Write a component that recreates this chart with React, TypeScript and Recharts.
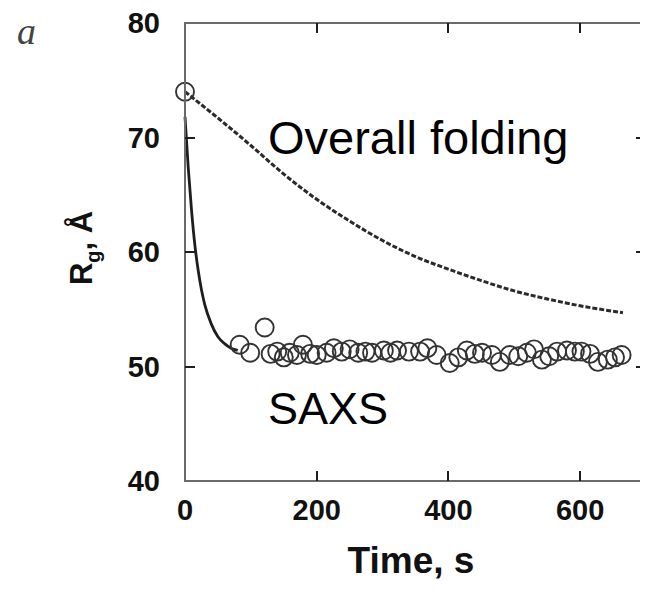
import React from "react";
import { ComposedChart, Line, Scatter, XAxis, YAxis, Customized } from "recharts";

// SAXS measurements: time (s) and Rg (Å)
const saxsTime = [0, 83, 99, 121, 130, 140, 150, 159, 170, 179, 190, 200, 215, 226, 238, 250, 263, 274, 284, 302, 312, 322, 340, 357, 368, 382, 402, 415, 428, 440, 451, 466, 478, 493, 506, 519, 530, 542, 553, 565, 580, 592, 602, 615, 627, 642, 653, 663];
const saxsRg = [74.0, 51.9, 51.2, 53.4, 51.1, 51.3, 50.8, 51.2, 51.0, 51.9, 51.1, 51.0, 51.2, 51.6, 51.3, 51.5, 51.2, 51.3, 51.2, 51.4, 51.2, 51.4, 51.3, 51.3, 51.6, 51.0, 50.3, 50.8, 51.4, 51.1, 51.2, 51.0, 50.4, 51.0, 50.9, 51.2, 51.5, 50.6, 50.9, 51.3, 51.4, 51.3, 51.3, 51.1, 50.4, 50.6, 50.8, 51.0];

// Fit through SAXS points (solid line)
const fitTime = [0, 5, 10, 15, 20, 25, 30, 40, 50, 60, 70, 80];
const fitRg = [71.8, 67.3, 63.6, 60.6, 58.4, 56.7, 55.4, 53.7, 52.6, 52.0, 51.6, 51.4];

// Overall folding curve (dashed line)
const foldTime = [0, 50, 100, 150, 200, 250, 300, 350, 400, 450, 500, 550, 600, 665];
const foldRg = [74.0, 71.7, 69.3, 66.8, 64.6, 62.7, 61.0, 59.6, 58.5, 57.5, 56.6, 55.9, 55.3, 54.7];

const xDomain = [0, 700];
const yDomain = [40, 80];
const xTicks = [0, 200, 400, 600];
const yTicks = [40, 50, 60, 70, 80];
const innerXTicks = [200, 400, 600];
const innerYTicks = [50, 60, 70];

const saxsData = saxsTime.map((t, i) => ({ t, rg: saxsRg[i] }));
const fitData = fitTime.map((t, i) => ({ t, rg: fitRg[i] }));
const foldData = foldTime.map((t, i) => ({ t, rg: foldRg[i] }));

const FONT = "'Liberation Sans', Arial, Helvetica, sans-serif";
const AXIS = "#6a6a6a";
const INK = "#1e1e1e";

const CHART_W = 640;
const CHART_H = 578;
const MARGIN = { top: 15, right: 2, bottom: 0, left: 0 };
const Y_AXIS_W = 177;
const X_AXIS_H = 105;
// plot box (derived from the chart layout)
const PL = MARGIN.left + Y_AXIS_W;
const PR = CHART_W - MARGIN.right;
const PT = MARGIN.top;
const PB = CHART_H - MARGIN.bottom - X_AXIS_H;
const sx = (t: number) => PL + ((t - xDomain[0]) / (xDomain[1] - xDomain[0])) * (PR - PL);
const sy = (v: number) => PB - ((v - yDomain[0]) / (yDomain[1] - yDomain[0])) * (PB - PT);
const TICK = 10;

const BottomTick = (props: any) => {
  const { x, y, payload } = props;
  return (
    <text x={x} y={y + 31} textAnchor="middle" fontFamily={FONT} fontWeight="bold" fontSize={29} fill="#111">
      {payload.value}
    </text>
  );
};

const LeftTick = (props: any) => {
  const { x, y, payload } = props;
  return (
    <text x={x - 17} y={y + 10} textAnchor="end" fontFamily={FONT} fontWeight="bold" fontSize={29} fill="#111">
      {payload.value}
    </text>
  );
};

const OpenCircle = (props: any) => {
  const { cx, cy } = props;
  return <circle cx={cx} cy={cy} r={9} fill="none" stroke="#333" strokeWidth={1.9} />;
};

const Texts = () => (
  <g>
    <text x={9} y={36} fontFamily="'Liberation Serif', 'Times New Roman', serif" fontStyle="italic" fontSize={38} fill="#444">
      a
    </text>
    <text x={260} y={146} fontFamily={FONT} fontSize={47} fill="#000">
      Overall folding
    </text>
    <text x={260} y={416} fontFamily={FONT} fontSize={45} fill="#000">
      SAXS
    </text>
    <text transform="translate(84 240) rotate(-90)" textAnchor="middle" fontFamily={FONT} fontWeight="bold" fontSize={31} fill="#111">
      R<tspan fontSize={20} dy={8}>g</tspan>
      <tspan dy={-8}>, Å</tspan>
    </text>
    <text x={403} y={565} textAnchor="middle" fontFamily={FONT} fontWeight="bold" fontSize={37} fill="#111">
      Time, s
    </text>
  </g>
);

const abs = (left: number, top: number, width: number, height: number, extra: any = {}) => ({
  position: "absolute" as const,
  left,
  top,
  width,
  height,
  boxSizing: "border-box" as const,
  pointerEvents: "none" as const,
  ...extra,
});

const FrameOverlay = () => (
  <>
    <div style={abs(PL - 1, PT - 1, PR - PL + 2, PB - PT + 2, { border: `2px solid ${AXIS}` })} />
    {innerXTicks.map((t) => (
      <div key={"b" + t} style={abs(sx(t) - 1, PB - TICK, 2, TICK, { background: INK })} />
    ))}
    {innerXTicks.map((t) => (
      <div key={"t" + t} style={abs(sx(t) - 1, PT, 2, TICK, { background: INK })} />
    ))}
    {innerYTicks.map((v) => (
      <div key={"l" + v} style={abs(PL, sy(v) - 1, TICK, 2, { background: INK })} />
    ))}
    {innerYTicks.map((v) => (
      <div key={"r" + v} style={abs(PR - TICK, sy(v) - 1, TICK, 2, { background: INK })} />
    ))}
  </>
);

export default function App() {
  return (
    <div style={{ position: "relative", width: CHART_W, height: CHART_H }}>
      <ComposedChart width={CHART_W} height={CHART_H} margin={MARGIN}>
        <XAxis
          dataKey="t"
          type="number"
          domain={xDomain}
          ticks={xTicks}
          height={X_AXIS_H}
          tickLine={false}
          axisLine={{ stroke: AXIS, strokeWidth: 2 }}
          tick={<BottomTick />}
        />
        <YAxis
          type="number"
          domain={yDomain}
          ticks={yTicks}
          width={Y_AXIS_W}
          tickLine={false}
          axisLine={{ stroke: AXIS, strokeWidth: 2 }}
          tick={<LeftTick />}
        />
        <Line
          data={foldData}
          dataKey="rg"
          type="monotone"
          stroke="#2a2a2a"
          strokeWidth={3}
          strokeDasharray="5 2"
          dot={false}
          isAnimationActive={false}
        />
        <Line
          data={fitData}
          dataKey="rg"
          type="monotone"
          stroke={INK}
          strokeWidth={2.8}
          dot={false}
          isAnimationActive={false}
        />
        <Scatter data={saxsData} dataKey="rg" shape={<OpenCircle />} isAnimationActive={false} />
        <Customized component={Texts} />
      </ComposedChart>
      <FrameOverlay />
    </div>
  );
}
